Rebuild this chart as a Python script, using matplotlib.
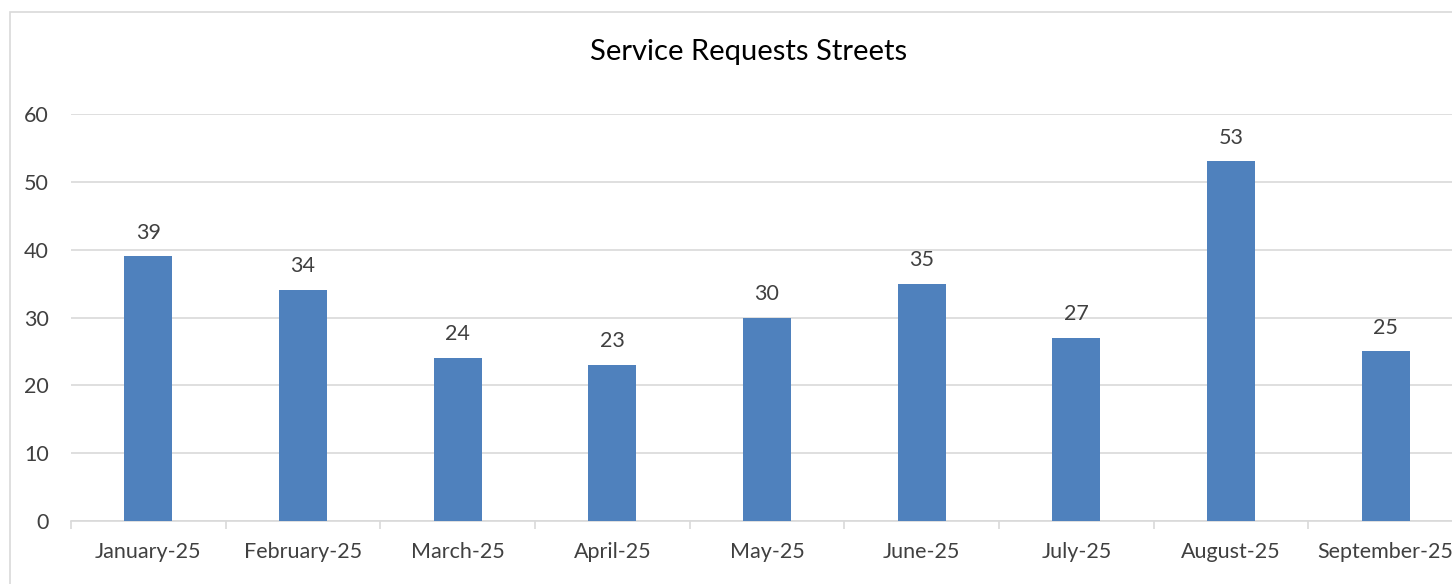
import matplotlib.pyplot as plt
from matplotlib.patches import Rectangle

months = ['January-25', 'February-25', 'March-25', 'April-25', 'May-25',
          'June-25', 'July-25', 'August-25', 'September-25']
requests = [39, 34, 24, 23, 30, 35, 27, 53, 25]
y_ticks = [0, 10, 20, 30, 40, 50, 60]

plt.rcParams['font.family'] = ['Lato', 'DejaVu Sans']
text_color = '#404040'
grid_color = '#d9d9d9'

fig = plt.figure(figsize=(14.52, 5.84), dpi=100)
# chart border (runs off the right and bottom edge like the screenshot)
fig.patches.append(Rectangle((10 / 1452, -0.2), 1.2, 1.2 - 12 / 584,
                             transform=fig.transFigure, fill=False,
                             edgecolor=grid_color, linewidth=1.2))

ax = fig.add_axes([71 / 1452, 63 / 584, 1392 / 1452, 407 / 584])
x = range(len(months))
bars = ax.bar(x, requests, width=0.31, color='#4f81bd', zorder=3)
for rect, v in zip(bars, requests):
    ax.annotate(str(v), (rect.get_x() + rect.get_width() / 2, v),
                xytext=(0, 10), textcoords='offset points',
                ha='center', va='bottom', fontsize=15.5, color=text_color)

ax.set_xlim(-0.5, len(months) - 0.5)
ax.set_ylim(0, 60)
ax.set_yticks(y_ticks)
ax.yaxis.grid(True, color=grid_color, linewidth=1.2, zorder=0)
ax.set_xticks(list(x))
ax.set_xticklabels(months)
ax.set_xticks([i - 0.5 for i in range(len(months) + 1)], minor=True)
ax.tick_params(axis='x', which='major', length=0, pad=15, labelsize=15.5,
               labelcolor=text_color)
ax.tick_params(axis='x', which='minor', length=6, color=grid_color, width=1.2)
ax.tick_params(axis='y', length=0, pad=16, labelsize=15.5, labelcolor=text_color)
for s in ['top', 'right', 'left']:
    ax.spines[s].set_visible(False)
ax.spines['bottom'].set_color(grid_color)
ax.spines['bottom'].set_linewidth(1.2)

fig.text(749 / 1452, 1 - 52 / 584, 'Service Requests Streets',
         ha='center', va='center', fontsize=21, color='black')

fig.savefig('out.png', dpi=100)
